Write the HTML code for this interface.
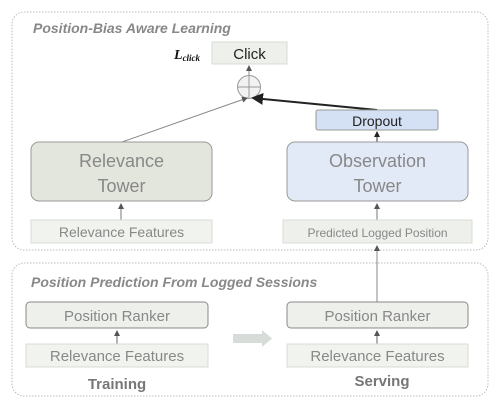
<!DOCTYPE html>
<html><head><style>
body{margin:0;width:497px;height:409px;background:#fff;overflow:hidden}
svg text{font-family:"Liberation Sans",sans-serif}
</style></head><body>
<svg width="497" height="409" viewBox="0 0 497 409">
<defs>
<marker id="a" markerWidth="6" markerHeight="6" refX="5" refY="3" orient="auto"><path d="M0,0 L6,3 L0,6z" fill="#555"/></marker>
<marker id="b" markerWidth="6" markerHeight="6" refX="5" refY="3" orient="auto"><path d="M0,0 L6,3 L0,6z" fill="#222"/></marker>
</defs>
<rect x="12" y="12" width="476" height="238" rx="12" fill="#fff" stroke="#bbb" stroke-dasharray="1.5 1.5"/>
<rect x="12" y="263" width="476" height="133" rx="12" fill="#fff" stroke="#bbb" stroke-dasharray="1.5 1.5"/>
<text x="33" y="33" font-size="14" font-weight="bold" font-style="italic" fill="#888">Position-Bias Aware Learning</text>
<text x="31" y="287" font-size="14" font-weight="bold" font-style="italic" fill="#888">Position Prediction From Logged Sessions</text>
<rect x="212" y="42" width="75" height="22" fill="#eef0ec" stroke="#d8ddd4"/>
<text x="249.5" y="59" font-size="15" text-anchor="middle" fill="#222">Click</text>
<text x="174" y="59" font-size="14" font-weight="bold" font-style="italic" style="font-family:'Liberation Serif',serif" fill="#111">L<tspan font-size="9" dy="2">click</tspan></text>
<line x1="249" y1="75" x2="249" y2="66" stroke="#888" marker-end="url(#a)"/>
<circle cx="249" cy="87" r="11.5" fill="#f2f2f2" stroke="#999"/>
<line x1="237.5" y1="87" x2="260.5" y2="87" stroke="#999"/><line x1="249" y1="75.5" x2="249" y2="98.5" stroke="#999"/>
<line x1="122" y1="142" x2="247" y2="98" stroke="#888" marker-end="url(#a)"/>
<line x1="377" y1="110" x2="253" y2="98" stroke="#222" stroke-width="2" marker-end="url(#b)"/>
<rect x="316" y="110" width="122" height="20" rx="2" fill="#d4e0f4" stroke="#999"/>
<text x="377" y="126" font-size="14" text-anchor="middle" fill="#222">Dropout</text>
<line x1="377" y1="142" x2="377" y2="132" stroke="#333" marker-end="url(#b)"/>
<rect x="31" y="142" width="181" height="59" rx="8" fill="#e3e6dc" stroke="#999"/>
<text x="121.5" y="167" font-size="18" text-anchor="middle" fill="#888">Relevance</text>
<text x="121.5" y="192" font-size="18" text-anchor="middle" fill="#888">Tower</text>
<rect x="287" y="142" width="181" height="59" rx="8" fill="#e2eaf7" stroke="#999"/>
<text x="377.5" y="167" font-size="18" text-anchor="middle" fill="#888">Observation</text>
<text x="377.5" y="192" font-size="18" text-anchor="middle" fill="#888">Tower</text>
<line x1="121" y1="220" x2="121" y2="204" stroke="#777" marker-end="url(#a)"/>
<line x1="377" y1="220" x2="377" y2="204" stroke="#777" marker-end="url(#a)"/>
<rect x="31" y="220" width="181" height="23" fill="#f1f3ee" stroke="#d8ddd4"/>
<text x="121.5" y="237" font-size="14" text-anchor="middle" fill="#888">Relevance Features</text>
<rect x="283" y="220" width="189" height="23" fill="#eef0ec" stroke="#d8ddd4"/>
<text x="377.5" y="237" font-size="12" text-anchor="middle" fill="#888">Predicted Logged Position</text>
<line x1="377" y1="302" x2="377" y2="246" stroke="#888" marker-end="url(#a)"/>
<rect x="26" y="302" width="182" height="26" rx="4" fill="#eef0ec" stroke="#888"/>
<text x="117" y="321" font-size="15" text-anchor="middle" fill="#888">Position Ranker</text>
<rect x="287" y="302" width="181" height="26" rx="4" fill="#eef0ec" stroke="#888"/>
<text x="377.5" y="321" font-size="15" text-anchor="middle" fill="#888">Position Ranker</text>
<line x1="117" y1="344" x2="117" y2="331" stroke="#666" marker-end="url(#a)"/>
<line x1="377" y1="344" x2="377" y2="331" stroke="#666" marker-end="url(#a)"/>
<rect x="26" y="344" width="182" height="23" fill="#f1f3ee" stroke="#d8ddd4"/>
<text x="117" y="361" font-size="15" text-anchor="middle" fill="#888">Relevance Features</text>
<rect x="287" y="344" width="181" height="23" fill="#f1f3ee" stroke="#d8ddd4"/>
<text x="377.5" y="361" font-size="15" text-anchor="middle" fill="#888">Relevance Features</text>
<text x="117" y="389" font-size="15" font-weight="bold" text-anchor="middle" fill="#777">Training</text>
<text x="382" y="386" font-size="15" font-weight="bold" text-anchor="middle" fill="#777">Serving</text>
<path d="M233,334 L262,334 L262,330 L272,338.5 L262,347 L262,343 L233,343z" fill="#d8dcd8"/>
</svg>
</body></html>
